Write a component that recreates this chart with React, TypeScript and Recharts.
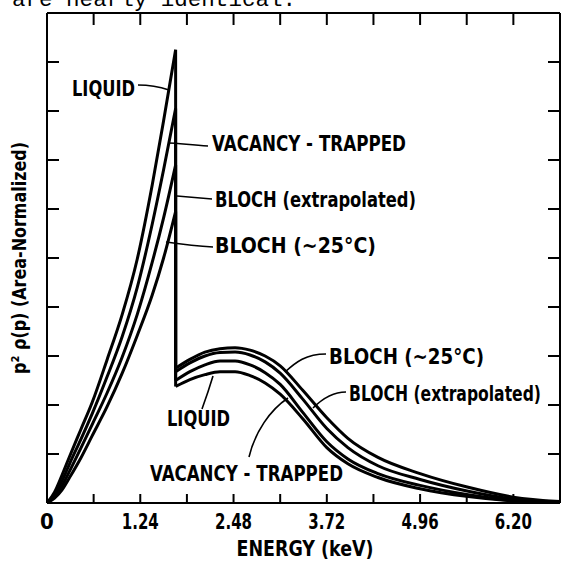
import { Line, LineChart, XAxis, YAxis } from 'recharts';

// energy axis (keV)
const energyTicks = [0, 0.62, 1.24, 1.86, 2.48, 3.1, 3.72, 4.34, 4.96, 5.58, 6.2, 6.82];
const energyLabels = ['0', '1.24', '2.48', '3.72', '4.96', '6.20'];
const densityTicks = [0, 1, 2, 3, 4, 5, 6, 7, 8, 9, 10];

// rising part, up to the Fermi cutoff
const riseEnergy = [0, 0.1, 0.2, 0.3, 0.45, 0.6, 0.8, 1.0, 1.2, 1.4, 1.55, 1.71];
const liquidRise = [0, 0.22, 0.57, 0.95, 1.5, 2.05, 2.93, 3.85, 4.98, 6.5, 7.8, 9.25];
const vacancyRise = [0, 0.17, 0.45, 0.8, 1.3, 1.82, 2.58, 3.4, 4.4, 5.7, 6.8, 8.05];
const blochExtRise = [0, 0.13, 0.35, 0.65, 1.12, 1.6, 2.25, 2.98, 3.85, 4.92, 5.82, 6.9];
const bloch25Rise = [0, 0.1, 0.27, 0.52, 0.92, 1.37, 1.97, 2.65, 3.42, 4.25, 5.0, 5.95];

// core hump after the cutoff
const humpEnergy = [1.71, 1.9, 2.1, 2.3, 2.5, 2.7, 2.9, 3.1, 3.4, 3.72, 4.0, 4.4, 4.96, 5.6, 6.2, 6.82];
const bloch25Hump = [2.75, 2.93, 3.08, 3.15, 3.17, 3.12, 3.0, 2.8, 2.3, 1.74, 1.32, 0.93, 0.6, 0.32, 0.12, 0.03];
const blochExtHump = [2.68, 2.86, 3.0, 3.07, 3.08, 3.02, 2.88, 2.65, 2.12, 1.52, 1.13, 0.76, 0.48, 0.24, 0.08, 0.02];
const vacancyHump = [2.5, 2.68, 2.82, 2.9, 2.9, 2.82, 2.66, 2.42, 1.85, 1.25, 0.9, 0.6, 0.36, 0.17, 0.05, 0.01];
const liquidHump = [2.38, 2.52, 2.62, 2.68, 2.68, 2.6, 2.45, 2.22, 1.72, 1.13, 0.8, 0.52, 0.29, 0.13, 0.04, 0.01];

const FONT = '"DejaVu Sans Condensed", "Liberation Sans Narrow", "Arial Narrow", sans-serif';

const zip = (es: number[], vs: number[]) => es.map((e, i) => ({ e, v: vs[i] }));

const curves = [
  { name: 'liquid', rise: liquidRise, hump: liquidHump },
  { name: 'vacancy', rise: vacancyRise, hump: vacancyHump },
  { name: 'blochExt', rise: blochExtRise, hump: blochExtHump },
  { name: 'bloch25', rise: bloch25Rise, hump: bloch25Hump },
];

const labelFor = (v: number) => {
  const i = energyLabels.findIndex((l) => Math.abs(parseFloat(l) - v) < 0.001);
  return i >= 0 ? energyLabels[i] : null;
};

const BottomTick = (props: any) => {
  const { x, y, payload } = props;
  const label = labelFor(payload.value);
  return (
    <g>
      <line x1={x} y1={y} x2={x} y2={y - 9} stroke="#000" strokeWidth={2} />
      {label && (
        <text
          x={x}
          y={y + 26}
          textAnchor="middle"
          textLength={label.length > 1 ? 37 : undefined}
          lengthAdjust="spacingAndGlyphs"
          fontFamily={FONT}
          fontWeight="bold"
          fontSize={22}
          fill="#000"
        >
          {label}
        </text>
      )}
    </g>
  );
};

const TopTick = (props: any) => {
  const { x, y } = props;
  return <line x1={x} y1={y} x2={x} y2={y + 12} stroke="#000" strokeWidth={2} />;
};

const LeftTick = (props: any) => {
  const { x, y } = props;
  return <line x1={x} y1={y} x2={x + 12} y2={y} stroke="#000" strokeWidth={2} />;
};

const RightTick = (props: any) => {
  const { x, y } = props;
  return <line x1={x} y1={y} x2={x - 12} y2={y} stroke="#000" strokeWidth={2} />;
};

const Label = ({ x, y, w, children }: { x: number; y: number; w: number; children: string }) => (
  <text
    x={x}
    y={y}
    textLength={w}
    lengthAdjust="spacingAndGlyphs"
    fontFamily={FONT}
    fontWeight="bold"
    fontSize={22}
    fill="#000"
  >
    {children}
  </text>
);

export default function App() {
  const lines: any[] = [];
  curves.forEach((c) => {
    const rise = zip(riseEnergy, c.rise);
    const hump = zip(humpEnergy, c.hump);
    const drop = [rise[rise.length - 1], hump[0]];
    lines.push(
      <Line key={c.name + 'r'} xAxisId="b" yAxisId="l" data={rise} dataKey="v" type="monotone"
        stroke="#000" strokeWidth={3} dot={false} isAnimationActive={false} />,
      <Line key={c.name + 'd'} xAxisId="b" yAxisId="l" data={drop} dataKey="v" type="linear"
        stroke="#000" strokeWidth={3} dot={false} isAnimationActive={false} />,
      <Line key={c.name + 'h'} xAxisId="b" yAxisId="l" data={hump} dataKey="v" type="monotone"
        stroke="#000" strokeWidth={3} dot={false} isAnimationActive={false} />,
    );
  });
  // frame-only series so the top and right axes are bound to something
  const frame = zip([0, 6.82], [0, 0]);

  return (
    <div style={{ position: 'absolute', left: 0, top: 0, width: 562, height: 562, background: '#fff', overflow: 'hidden' }}>
      <LineChart width={562} height={562} margin={{ top: 12, right: 1, left: 46, bottom: 19 }}>
        <XAxis
          xAxisId="b"
          dataKey="e"
          type="number"
          domain={[0, 6.82]}
          ticks={energyTicks}
          interval={0}
          height={40}
          tickSize={0}
          tickMargin={0}
          tickLine={false}
          axisLine={{ stroke: '#000', strokeWidth: 2 }}
          tick={<BottomTick />}
          allowDataOverflow
        />
        <XAxis
          xAxisId="t"
          orientation="top"
          dataKey="e"
          type="number"
          domain={[0, 6.82]}
          ticks={energyTicks}
          interval={0}
          height={1}
          tickSize={0}
          tickMargin={0}
          tickLine={false}
          axisLine={{ stroke: '#000', strokeWidth: 2 }}
          tick={<TopTick />}
          allowDataOverflow
        />
        <YAxis
          yAxisId="l"
          type="number"
          domain={[0, 10]}
          ticks={densityTicks}
          interval={0}
          width={1}
          tickSize={0}
          tickMargin={0}
          tickLine={false}
          axisLine={{ stroke: '#000', strokeWidth: 2 }}
          tick={<LeftTick />}
          allowDataOverflow
        />
        <YAxis
          yAxisId="r"
          orientation="right"
          type="number"
          domain={[0, 10]}
          ticks={densityTicks}
          interval={0}
          width={1}
          tickSize={0}
          tickMargin={0}
          tickLine={false}
          axisLine={{ stroke: '#000', strokeWidth: 2 }}
          tick={<RightTick />}
          allowDataOverflow
        />
        <Line xAxisId="t" yAxisId="r" data={frame} dataKey="v" stroke="#000" strokeWidth={2}
          dot={false} isAnimationActive={false} />
        {lines}
      </LineChart>
      <svg width={562} height={562} style={{ position: 'absolute', left: 0, top: 0, pointerEvents: 'none' }}>
        <text x={12} y={6} textLength={284} lengthAdjust="spacingAndGlyphs"
          fontFamily='"Liberation Mono", "DejaVu Sans Mono", monospace' fontSize={22} fill="#000">
          are nearly identical.
        </text>

        <text
          transform="translate(26,258) rotate(-90)"
          textAnchor="middle"
          textLength={232}
          lengthAdjust="spacingAndGlyphs"
          fontFamily={FONT}
          fontWeight="bold"
          fontSize={20}
          fill="#000"
        >
          p² ρ(p) (Area-Normalized)
        </text>
        <text x={305} y={556} textAnchor="middle" textLength={137} lengthAdjust="spacingAndGlyphs"
          fontFamily={FONT} fontWeight="bold" fontSize={21} fill="#000">
          ENERGY (keV)
        </text>

        <g stroke="#000" strokeWidth={1.6} fill="none">
          <path d="M138,85 C150,85 160,87 169,90" />
          <path d="M208,146 C190,145 178,143 168,143" />
          <path d="M212,199 C200,198 188,197 177,196" />
          <path d="M213,247 C195,246 180,244 166,242" />
          <path d="M326,354 C306,354 296,362 285,372" />
          <path d="M346,392 C331,392 321,400 313,408" />
          <path d="M202,409 C206,398 210,386 213,376" />
          <path d="M249,457 C255,432 270,410 288,398" />
        </g>

        <Label x={72} y={96} w={63}>LIQUID</Label>
        <Label x={212} y={151} w={194}>VACANCY - TRAPPED</Label>
        <Label x={215} y={207} w={201}>BLOCH (extrapolated)</Label>
        <Label x={215} y={253} w={161}>BLOCH (~25°C)</Label>
        <Label x={329} y={364} w={155}>BLOCH (~25°C)</Label>
        <Label x={349} y={401} w={192}>BLOCH (extrapolated)</Label>
        <Label x={167} y={426} w={63}>LIQUID</Label>
        <Label x={150} y={481} w={193}>VACANCY - TRAPPED</Label>
      </svg>
    </div>
  );
}
